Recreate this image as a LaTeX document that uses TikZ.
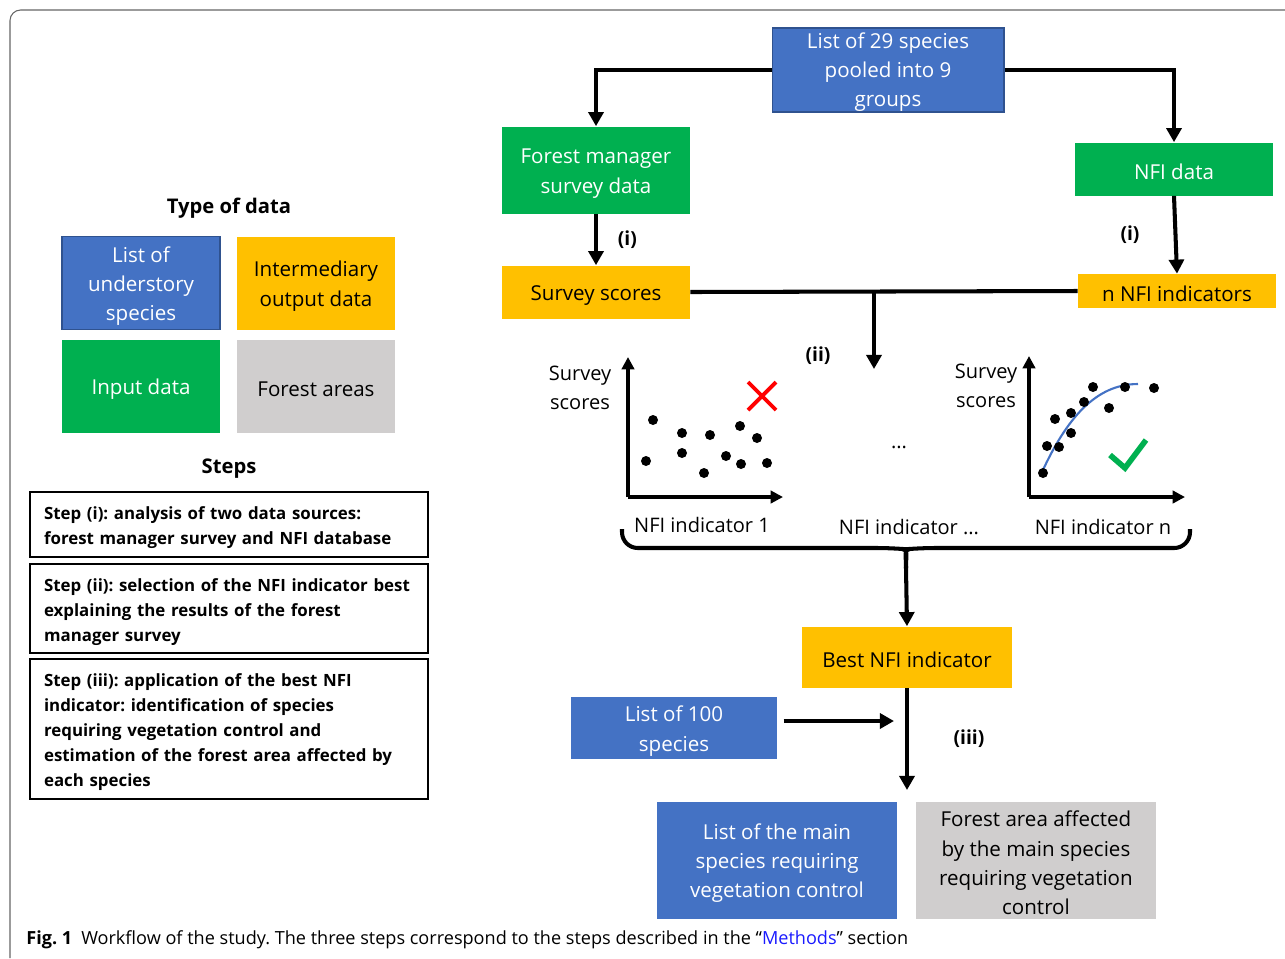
\documentclass[tikz,border=0pt]{standalone}
\usepackage{fontspec}
\setmainfont{Open Sans}
\usetikzlibrary{arrows.meta}

\definecolor{spblue}{HTML}{4472C4}
\definecolor{spedge}{HTML}{2F528F}
\definecolor{ingreen}{HTML}{00B050}
\definecolor{midyellow}{HTML}{FFC000}
\definecolor{areagrey}{HTML}{D0CECE}
\definecolor{linkblue}{HTML}{1A1AFF}

\newcommand\uplift{\rule{0pt}{12.5pt}}
\tikzset{
  box/.style={align=center, inner sep=0pt, font=\fontsize{11.7}{16.7}\selectfont,
    execute at begin node={\uplift}},
  species/.style={box, fill=spblue, draw=spedge, line width=0.6pt, text=white},
  input/.style={box, fill=ingreen, text=white},
  interm/.style={box, fill=midyellow},
  area/.style={box, fill=areagrey},
  stepbox/.style={draw, line width=1.1pt, minimum width=7.96cm, text width=7.4cm,
    align=left, font=\fontsize{9.6}{14.2}\selectfont\bfseries,
    execute at begin node={\rule{0pt}{11pt}}},
  arr/.style={line width=2.3pt, -{Triangle[length=8pt, width=8.5pt]}},
  link/.style={line width=2.3pt},
  axis/.style={line width=1.8pt, -{Triangle[length=7pt, width=7pt]}},
  lbl/.style={font=\fontsize{11.4}{16.5}\selectfont, align=center},
  steplabel/.style={font=\fontsize{11}{13}\selectfont\bfseries}
}

\begin{document}
\frenchspacing
\begin{tikzpicture}[x=0.02cm, y=-0.02cm]
  \useasboundingbox (0,0) rectangle (1285,958);
  % frame
  \draw[gray!80!black, line width=0.6pt, rounded corners=6pt] (10,958) |- (1285,10);

  % type of data
  \node[font=\fontsize{11.5}{14}\selectfont\bfseries] (typehead) at (229,208) {Type of data};
  \node[species, minimum width=3.16cm, minimum height=1.86cm] (legsp) at (141,283) {\uplift List of\\understory\\species};
  \node[interm, minimum width=3.16cm, minimum height=1.86cm] (legint) at (316,283) {\uplift Intermediary\\output data};
  \node[input, minimum width=3.16cm, minimum height=1.86cm] (legin) at (141,386) {Input data};
  \node[area, minimum width=3.16cm, minimum height=1.86cm] (legarea) at (316,386) {Forest areas};

  % steps
  \node[font=\fontsize{11.5}{14}\selectfont\bfseries] (stepshead) at (229,469) {Steps};
  \node[stepbox, minimum height=1.3cm] (stepa) at (229,524.5)
    {Step (i): analysis of two data sources:\\forest manager survey and NFI database};
  \node[stepbox, minimum height=1.78cm] (stepb) at (229,608.5)
    {Step (ii): selection of the NFI indicator best\\explaining the results of the forest\\manager survey};
  \node[stepbox, minimum height=2.8cm] (stepc) at (229,729)
    {Step (iii): application of the best NFI\\indicator: identification of species\\requiring vegetation control and\\estimation of the forest area affected by\\each species};

  % workflow
  \node[species, minimum width=4.64cm, minimum height=1.68cm] (pool) at (888,70) {\rule{0pt}{11.5pt}List of 29 species\\pooled into 9\\groups};
  \node[input, minimum width=3.76cm, minimum height=1.74cm] (survey) at (596,170) {\uplift Forest manager\\survey data};
  \node[input, minimum width=3.96cm, minimum height=1.06cm] (nfi) at (1174,169) {NFI data};
  \node[interm, minimum width=3.76cm, minimum height=1.06cm] (scores) at (596,292) {Survey scores};
  \node[interm, minimum width=3.96cm, minimum height=0.68cm] (indic) at (1177,291) {n NFI indicators};

  \draw[arr] (pool.west) -| (survey.north);
  \draw[arr] (pool.east) -| (nfi.north);
  \draw[arr] (survey) -- (scores) node[midway, right=8pt, steplabel] {(i)};
  \draw[arr] (nfi.south) -- (indic.north) node[midway, left=16pt, steplabel] {(i)};
  \draw[link] (scores.east) -- (indic.west);
  \coordinate (split) at (874,292);
  \coordinate (plots) at (874,369);
  \draw[arr] (split) -- (plots);
  \node[steplabel] (stepii) at (818,356) {(ii)};

  % scatter plot 1
  \coordinate (o1) at (628,497);
  \draw[axis] (o1) -- (628,357);
  \draw[axis] (o1) -- (783,497);
  \node[lbl] (ylab1) at (580,388) {Survey\\scores};
  \node[lbl] (xlab1) at (702,525) {NFI indicator 1};
  \foreach \px/\py in {653/420, 646/461, 682/433, 682/453, 710/435, 704/473,
                       726/456, 740/426, 757/438, 741/464, 767/463}
    \fill (\px,\py) circle (1mm);
  \draw[red, line width=2.2pt] (748,382) -- (776,410) (748,410) -- (776,382);

  % middle
  \node[lbl] (dots) at (899,447) {...};
  \node[lbl] (xlabm) at (909,527) {NFI indicator ...};

  % scatter plot n
  \coordinate (on) at (1029,497);
  \draw[axis] (on) -- (1029,356);
  \draw[axis] (on) -- (1185,497);
  \node[lbl] (ylabn) at (986,386) {Survey\\scores};
  \node[lbl] (xlabn) at (1103,527) {NFI indicator n};
  \draw[spblue, line width=1.2pt] (1042,472) .. controls (1066,420) and (1095,384) .. (1138,384);
  \foreach \px/\py in {1043/473, 1047/446, 1059/447, 1055/419, 1071/413, 1071/433,
                       1084/402, 1093/387, 1109/408, 1125/387, 1154/388}
    \fill (\px,\py) circle (1mm);
  \draw[ingreen, line width=3.2pt] (1110,455) -- (1125,468) -- (1146,440);

  % brace
  \coordinate (tip) at (906,568);
  \draw[line width=2.3pt, rounded corners=9pt] (622,529) |- (893,548)
    .. controls (904,549) and (906,555) .. (tip);
  \draw[line width=2.3pt, rounded corners=9pt] (1190,529) |- (919,548)
    .. controls (908,549) and (906,555) .. (tip);

  \node[interm, minimum width=4.22cm, minimum height=1.22cm] (best) at (907,657) {Best NFI indicator};
  \draw[arr] (tip) -- (best.north);
  \node[species, draw=none, minimum width=4.12cm, minimum height=1.24cm] (list100) at (674,728) {\uplift List of 100\\species};
  \coordinate (join) at (894,721);
  \draw[arr] (list100.east |- join) ++(6,0) -- (join);
  \coordinate (out) at (907,790);
  \draw[arr] (best.south) -- (out);
  \node[steplabel] (stepiii) at (969,739) {(iii)};

  \node[species, draw=none, minimum width=4.82cm, minimum height=2.34cm] (mainsp) at (777,860) {\uplift List of the main\\species requiring\\vegetation control};
  \node[area, minimum width=4.82cm, minimum height=2.34cm] (affected) at (1036,860) {\uplift Forest area affected\\by the main species\\requiring vegetation\\control};

  % caption
  \node[anchor=west, inner sep=0pt, font=\fontsize{10.3}{12}\selectfont] (caption) at (26,940)
    {\textbf{Fig. 1}\enspace Workflow of the study. The three steps correspond to the steps described in the “\textcolor{linkblue}{Methods}” section};
\end{tikzpicture}
\end{document}
